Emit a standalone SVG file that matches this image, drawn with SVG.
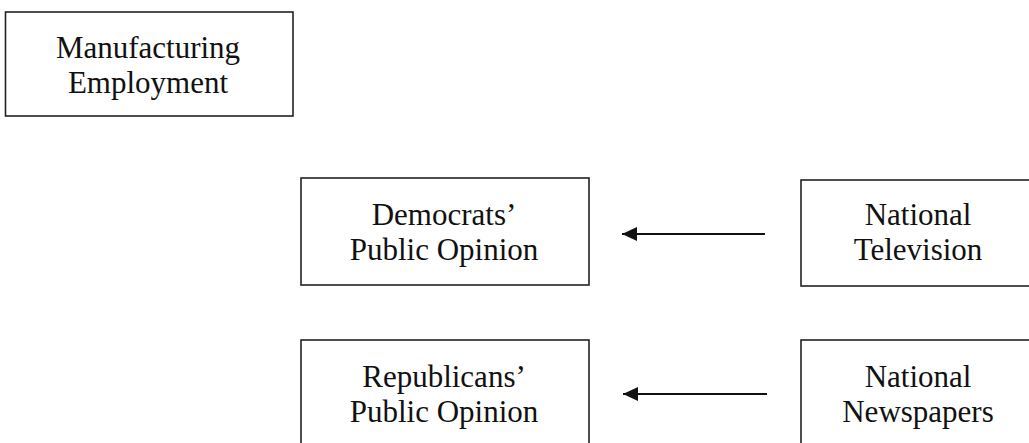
<svg xmlns="http://www.w3.org/2000/svg" width="1029" height="443" viewBox="0 0 1029 443">
<style>
.box{fill:#fff;stroke:#222;stroke-width:1.6}
.t{font-family:"Liberation Serif","Times New Roman",serif;font-size:31px;fill:#111;text-anchor:middle}
.c{stroke:#111;stroke-width:2;fill:none}
</style>
<defs>
<marker id="ah" markerUnits="userSpaceOnUse" markerWidth="16" markerHeight="16" refX="15" refY="8" orient="auto">
<path d="M0,1 L15,8 L0,15 Z" fill="#111"/>
</marker>
</defs>
<rect width="1029" height="443" fill="#fff"/>
<g id="manufacturing">
<rect class="box" x="5.5" y="12" width="287.5" height="104"/>
<text class="t" x="148" y="58">Manufacturing</text>
<text class="t" x="148" y="93">Employment</text>
</g>
<g id="democrats">
<rect class="box" x="301" y="178" width="288" height="107"/>
<text class="t" x="444" y="225">Democrats’</text>
<text class="t" x="444" y="260">Public Opinion</text>
</g>
<g id="television">
<rect class="box" x="801" y="180" width="236" height="106"/>
<text class="t" x="918" y="225">National</text>
<text class="t" x="918" y="260">Television</text>
</g>
<g id="republicans">
<rect class="box" x="301" y="340" width="288" height="110"/>
<text class="t" x="444" y="387">Republicans’</text>
<text class="t" x="444" y="422">Public Opinion</text>
</g>
<g id="newspapers">
<rect class="box" x="801" y="340" width="236" height="110"/>
<text class="t" x="918" y="387">National</text>
<text class="t" x="918" y="422">Newspapers</text>
</g>
<g id="connectors">
<line class="c" x1="765" y1="234" x2="622" y2="234" marker-end="url(#ah)"/>
<line class="c" x1="767" y1="394" x2="623" y2="394" marker-end="url(#ah)"/>
</g>
</svg>
